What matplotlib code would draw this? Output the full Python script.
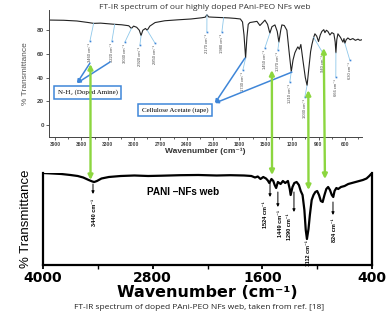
import numpy as np
import matplotlib
matplotlib.use('Agg')
import matplotlib.pyplot as plt
from matplotlib.patches import ConnectionPatch

# top spectrum (our PAni-PEO web), wavenumber vs %T
top_wn = [3968, 3800, 3650, 3520, 3460, 3380, 3300, 3220, 3140, 3060, 3030, 3005, 2970, 2940,
          2920, 2900, 2870, 2850, 2820, 2760, 2650, 2500, 2350, 2230, 2190, 2170, 2150, 2100,
          2040, 1980, 1920, 1850, 1790, 1765, 1748, 1730, 1715, 1700, 1681, 1640, 1601, 1567,
          1535, 1510, 1480, 1454, 1430, 1396, 1370, 1351, 1330, 1317, 1290, 1260, 1235, 1210,
          1190, 1169, 1150, 1135, 1118, 1101, 1078, 1050, 1030, 1010, 990, 975, 955, 941, 920,
          900, 880, 862, 840, 827, 810, 793, 770, 748, 725, 710, 702, 692, 679, 650, 622, 610,
          600, 585, 566, 540, 509, 480, 450, 429, 407]
top_t = [88.6, 88.4, 87.8, 86.5, 85.8, 86.0, 85.5, 85.0, 84.6, 83.8, 81.5, 83.5, 82.5, 80.0,
         75.5, 80.0, 81.5, 80.0, 83.5, 86.5, 88.0, 88.8, 89.5, 90.5, 91.0, 93.0, 91.2, 91.0,
         90.8, 90.6, 90.4, 90.0, 89.5, 87.0, 76.0, 56.5, 74.0, 85.0, 86.5, 87.0, 87.5, 84.0,
         86.5, 88.5, 85.0, 77.5, 83.0, 84.5, 79.0, 70.0, 80.0, 84.5, 84.0, 80.0, 62.0, 45.0,
         55.0, 61.0, 64.0, 66.0, 64.0, 68.0, 55.0, 40.0, 33.5, 48.0, 62.0, 68.0, 74.0, 77.0, 75.0,
         70.5, 76.0, 79.0, 80.5, 78.0, 80.0, 79.0, 76.0, 78.0, 77.0, 70.0, 61.0, 72.0, 77.0, 74.0,
         70.0, 73.0, 69.0, 72.0, 73.5, 72.0, 73.0, 71.5, 72.5, 71.5, 72.0]

# bottom spectrum (PANI NFs web, ref. [18]), arbitrary %T scale
bot_wn = [4000, 3900, 3800, 3700, 3620, 3560, 3500, 3460, 3440, 3410, 3360, 3280, 3150, 3000,
          2850, 2700, 2500, 2300, 2100, 1950, 1800, 1720, 1680, 1650, 1620, 1590, 1560, 1540,
          1524, 1500, 1480, 1465, 1449, 1430, 1400, 1375, 1350, 1320, 1300, 1290, 1270, 1250,
          1225, 1200, 1180, 1160, 1140, 1125, 1112, 1095, 1080, 1060, 1040, 1020, 1000, 980,
          960, 940, 920, 900, 880, 860, 840, 824, 810, 790, 770, 740, 700, 660, 620, 580, 540,
          500, 460, 430, 400]
bot_t = [92, 91.5, 91, 90, 89, 87.5, 85, 83.5, 83, 84, 86.5, 88, 89, 89.5,
         89, 89.3, 89.8, 90, 89.5, 89.8, 89.5, 89, 87.5, 88.5, 86, 88, 86.5, 84.5,
         82, 86, 84, 80, 77, 83, 81, 84, 82, 84, 76, 70, 78, 82,
         83, 80, 74, 70, 55, 35, 26, 36, 50, 65, 70, 73, 74, 70,
         64, 63, 70, 76, 78, 75, 70, 68, 74, 77, 76, 78, 79, 81, 82, 83, 84,
         85, 86.5, 89, 92]

# peak labels on the top spectrum
top_peaks = [3460, 3220, 3030, 2920, 2850, 2170, 1980, 1730, 1450, 1370, 1210, 1030, 940, 666, 630]
top_peak_at = [3460, 3220, 3030, 2920, 2850, 2170, 1980, 1730, 1454, 1351, 1210, 1030, 955, 702, 600]
top_lab_x = [3502, 3252, 3104, 2933, 2762, 2171, 2000, 1761, 1511, 1363, 1227, 1056, 851, 703, 544]
top_lab_y = [70.9, 70.9, 70.0, 67.5, 69.2, 78.5, 78.5, 46.4, 65.0, 63.3, 36.3, 23.6, 60.8, 40.5, 54.9]

# peak labels on the bottom spectrum
bot_peaks = [3440, 1524, 1449, 1290, 1112, 824]
bot_arrow_x = [3453, 1516, 1430, 1254, None, 827]
bot_arrow_y = [(81, 71), (82, 68), (73, 58), (73, 53), None, (63, 50)]
bot_lab_x = [3440, 1570, 1405, 1300, 1100, 812]
bot_lab_y = [66, 64, 55, 52, 25, 47]

# green correspondence arrows: (top wn, top %T) <-> (bottom wn, bottom %T)
links_top = [(3496, 51.5), (1431, 46.4), (1016, 29.5), (840, 65.0)]
links_bot = [(3480, 85), (1494, 90), (1095, 75), (915, 86)]

blue = '#3f86d8'
green = '#8cd63f'

fig = plt.figure(figsize=(3.92, 3.15), dpi=100)

# ---- top panel ----
ax1 = fig.add_axes([0.125, 0.565, 0.798, 0.403])
ax1.plot(top_wn, top_t, color='#222222', lw=0.8)
ax1.set_xlim(3968, 407)
ax1.set_ylim(-10, 97)
ax1.set_xticks([3900, 3600, 3300, 3000, 2700, 2400, 2100, 1800, 1500, 1200, 900, 600])
ax1.set_xticks(np.arange(3750, 400, -300), minor=True)
ax1.set_yticks([0, 20, 40, 60, 80])
ax1.tick_params(axis='both', which='major', length=2, width=0.6, pad=1.5, colors='#444444')
ax1.tick_params(axis='x', which='minor', length=1.5, width=0.6, colors='#444444')
ax1.tick_params(axis='x', labelsize=3.6)
ax1.tick_params(axis='y', labelsize=4.5)
for lab in ax1.get_xticklabels() + ax1.get_yticklabels():
    lab.set_fontfamily('Liberation Sans')
    lab.set_fontweight('bold')
for s in ['top', 'right']:
    ax1.spines[s].set_visible(False)
for s in ['left', 'bottom']:
    ax1.spines[s].set_linewidth(0.7)
    ax1.spines[s].set_color('#444444')
ax1.set_xlabel('Wavenumber (cm⁻¹)', family=['Liberation Sans', 'DejaVu Sans'],
               fontweight='bold', fontsize=6, color='#333333', labelpad=0.5)
ax1.set_ylabel('% Transmittance', family=['Liberation Sans', 'DejaVu Sans'],
               fontsize=6, color='#555555', labelpad=6)

# peak leaders and labels
for p, at, lx, ly in zip(top_peaks, top_peak_at, top_lab_x, top_lab_y):
    py = np.interp(at, top_wn[::-1], top_t[::-1])
    ax1.plot([at, lx], [py, ly], color='#8fc8ea', lw=0.6)
    ax1.plot(lx, ly, 's', color=blue, ms=1.2, mew=0)
    ax1.text(lx, ly - 1.5, f'{p} cm⁻¹', rotation=90, ha='center', va='top', fontsize=3,
             family=['Liberation Sans', 'DejaVu Sans'], color='#444444')

# callout boxes
box_kw = dict(boxstyle='square,pad=0.5', fc='white', ec=blue, lw=1.1)
ax1.text(3530, 27.8, 'N-H₂ (Doped Amine)', ha='center', va='center', fontsize=5,
         family=['Liberation Serif', 'DejaVu Serif'], bbox=box_kw, zorder=5)
ax1.text(2534, 12.7, 'Cellulose Acetate (tape)', ha='center', va='center', fontsize=5,
         family=['Liberation Serif', 'DejaVu Serif'], bbox=box_kw, zorder=5)
arrow_kw = dict(arrowstyle='-|>', color=blue, lw=1.1, mutation_scale=5, shrinkA=0, shrinkB=0)
for src in [(3502, 52.3), (3274, 53.2)]:
    ax1.annotate('', xy=(3650, 35.4), xytext=src, arrowprops=arrow_kw, zorder=6)
for src in [(1738, 56.5), (1203, 44.7)]:
    ax1.annotate('', xy=(2079, 18.6), xytext=src, arrowprops=arrow_kw, zorder=6)

# ---- bottom panel ----
ax2 = fig.add_axes([0.1097, 0.1587, 0.8393, 0.2921])
ax2.plot(bot_wn, bot_t, color='black', lw=1.6, solid_joinstyle='round')
ax2.set_xlim(4000, 400)
ax2.set_ylim(0, 92)
ax2.set_xticks([4000, 2800, 1600, 400])
ax2.set_xticks([3400, 2200, 1000], minor=True)
ax2.set_yticks([])
ax2.spines['top'].set_visible(False)
for s in ['left', 'right', 'bottom']:
    ax2.spines[s].set_linewidth(1.6)
ax2.tick_params(axis='x', which='major', length=3, width=1.3, pad=1, labelsize=10)
ax2.tick_params(axis='x', which='minor', length=3, width=1.0)
for lab in ax2.get_xticklabels():
    lab.set_fontfamily('DejaVu Sans')
    lab.set_fontweight('bold')
ax2.set_xlabel('Wavenumber (cm⁻¹)', family='DejaVu Sans', fontweight='bold',
               fontsize=11.5, labelpad=0)
ax2.set_ylabel('% Transmittance', family='Liberation Sans', fontsize=9.5, labelpad=8)
ax2.text(2468, 73, 'PANI –NFs web', ha='center', va='center', fontsize=7.2,
         family='Liberation Sans', fontweight='bold')

for p, axx, ayy, lx, ly in zip(bot_peaks, bot_arrow_x, bot_arrow_y, bot_lab_x, bot_lab_y):
    if axx is not None:
        ax2.annotate('', xy=(axx, ayy[1]), xytext=(axx, ayy[0]),
                     arrowprops=dict(arrowstyle='-|>', color='black', lw=0.7,
                                     mutation_scale=4, shrinkA=0, shrinkB=0))
    ax2.text(lx, ly, f'{p} cm⁻¹', rotation=90, ha='center', va='top', fontsize=4,
             family=['Liberation Sans', 'DejaVu Sans'], fontweight='bold')

# green arrows linking matching bands
for a, b in zip(links_top, links_bot):
    con = ConnectionPatch(xyA=a, coordsA=ax1.transData, xyB=b, coordsB=ax2.transData,
                          arrowstyle='<|-|>', color=green, lw=1.7, mutation_scale=7,
                          shrinkA=0, shrinkB=0, zorder=10)
    fig.add_artist(con)

fig.text(0.523, 0.976, 'FT-IR spectrum of our highly doped PAni-PEO NFs web', ha='center',
         va='center', fontsize=6, family='Open Sans', color='#333333')
fig.text(0.508, 0.025, 'FT-IR spectrum of doped PAni-PEO NFs web, taken from ref. [18]',
         ha='center', va='center', fontsize=6, family='Open Sans', color='#222222')

fig.savefig('out.png', dpi=100)
